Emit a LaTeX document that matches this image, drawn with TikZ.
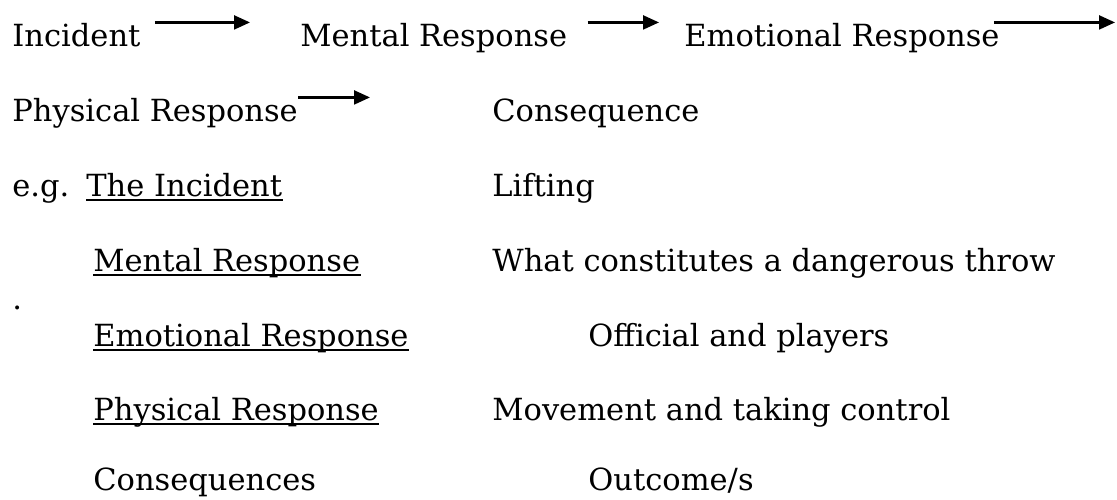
\documentclass[tikz,border=0pt]{standalone}
\usepackage{fontspec}
\setmainfont{DejaVu Serif}
\usetikzlibrary{positioning,arrows.meta}

\begin{document}
\begin{tikzpicture}[x=0.5pt,y=0.5pt]
\tikzstyle{every node}+=[inner sep=0pt,anchor=base west,font=\fontsize{15.25}{18}\selectfont]
\tikzstyle{flow}=[black,line width=1.1pt,-{Triangle[length=8pt,width=7pt]}]
\tikzstyle{uline}=[black,line width=1pt]
\useasboundingbox (0,0) rectangle (1117,-499);
\node (inc) at (12,-46) {Incident};
\node (men) at (300,-46) {Mental Response};
\node (emo) at (684,-46) {Emotional Response};
\coordinate (emoend) at (1115,-23);
\node (phy) at (12,-121) {Physical Response};
\node (con) at (492,-121) {Consequence};
\node (eg) at (12,-196) {e.g.};
\node (tinc) at (86,-196) {The Incident};
\node (lift) at (492,-196) {Lifting};
\node (mres) at (93,-271) {Mental Response};
\node (wcd) at (492,-271) {What constitutes a dangerous throw};
\node (dot) at (12,-309) {.};
\node (eres) at (93,-346) {Emotional Response};
\node (oap) at (588,-346) {Official and players};
\node (pres) at (93,-420) {Physical Response};
\node (mtc) at (492,-420) {Movement and taking control};
\node (cons) at (93,-490) {Consequences};
\node (out) at (588,-490) {Outcome/s};
\draw [flow,shorten <=7pt,shorten >=25pt] (inc.north east) -- (inc.north east -| men.west);
\draw [flow,shorten <=10pt,shorten >=12.5pt] (men.north east) -- (men.north east -| emo.west);
\draw [flow,shorten <=-3pt] (emo.north east) -- (emo.north east -| emoend);
\draw [flow,shorten >=61pt] (phy.north east) -- (phy.north east -| con.west);
\draw [uline] ([yshift=-2pt]tinc.base west) -- ([yshift=-2pt]tinc.base east);
\draw [uline] ([yshift=-2pt]mres.base west) -- ([yshift=-2pt]mres.base east);
\draw [uline] ([yshift=-2pt]eres.base west) -- ([yshift=-2pt]eres.base east);
\draw [uline] ([yshift=-2pt]pres.base west) -- ([yshift=-2pt]pres.base east);
\end{tikzpicture}
\end{document}
